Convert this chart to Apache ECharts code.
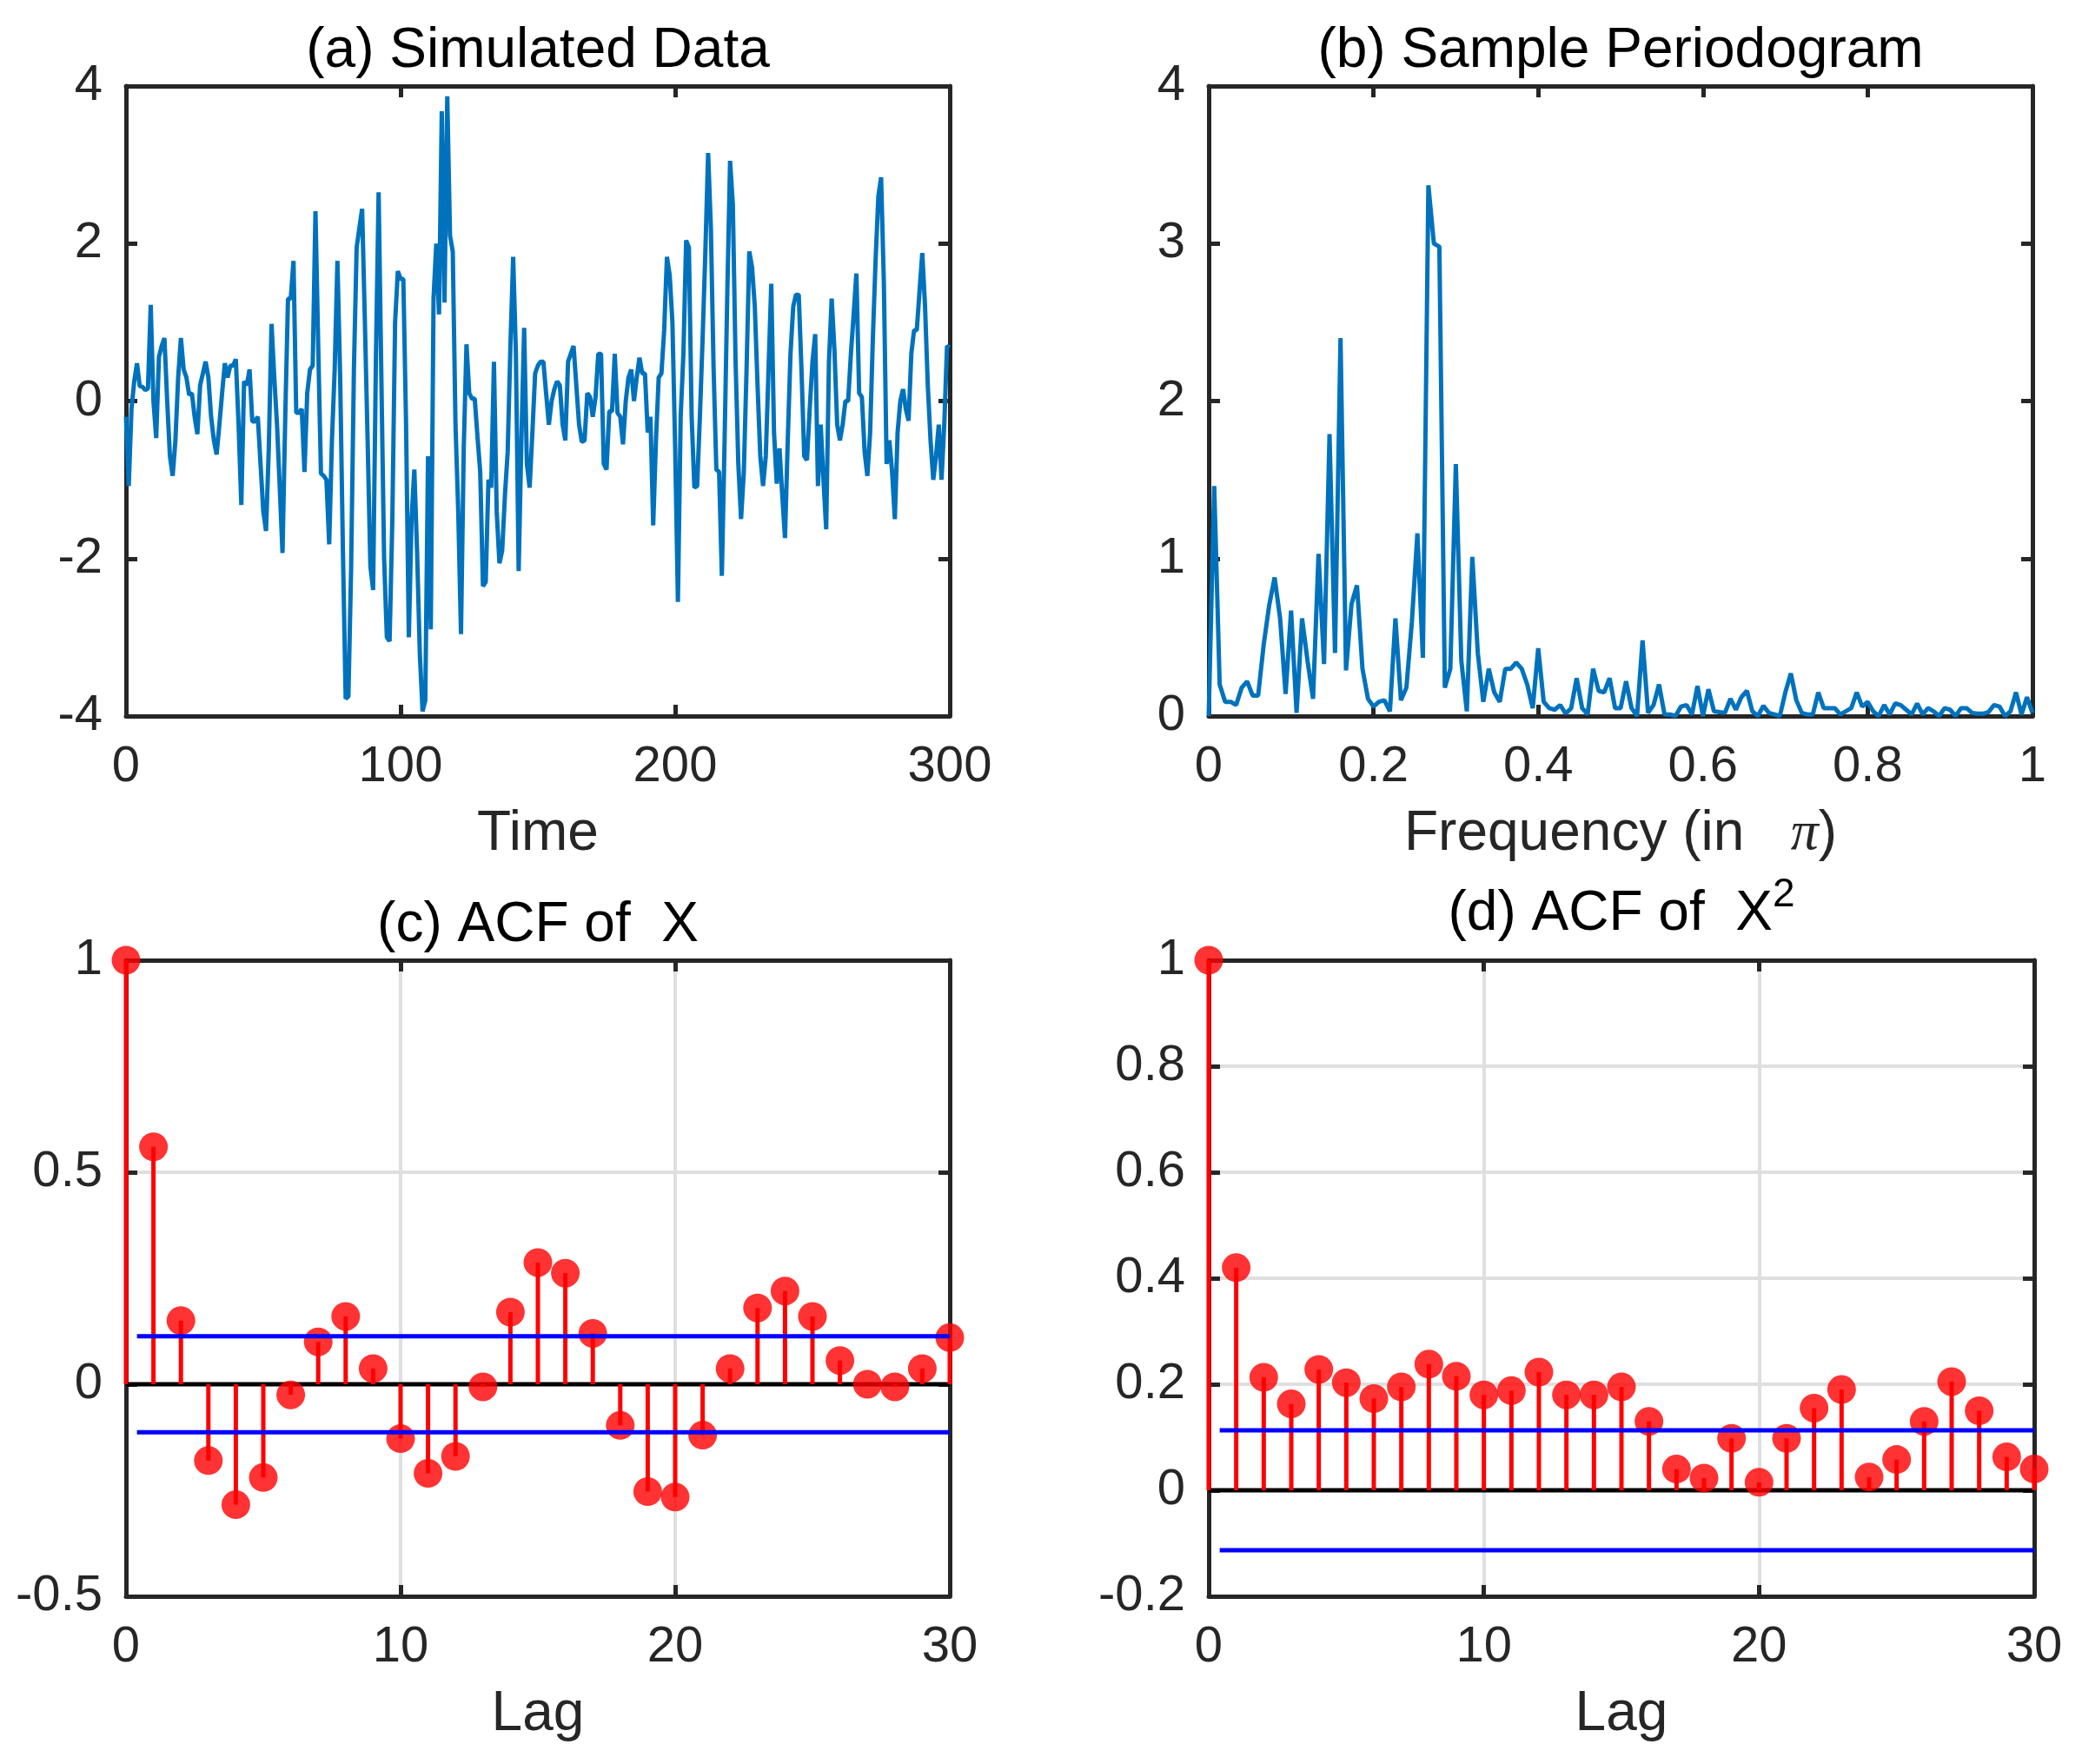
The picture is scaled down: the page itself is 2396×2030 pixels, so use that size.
<!DOCTYPE html>
<html>
<head>
<meta charset="utf-8">
<script src="https://cdn.jsdelivr.net/npm/echarts@6/dist/echarts.min.js"></script>
<style>
  body{margin:0;background:#fff;}
  #chart{width:2396px;height:2030px;}
</style>
</head>
<body>
<div id="chart"></div>
<script>
// 模拟序列 X_t, t = 0..300
var timeSeries = [
  -0.2, -1.08, -0.1, 0.25, 0.48, 0.19, 0.18, 0.14, 0.16, 1.22,
  0.0, -0.47, 0.56, 0.7, 0.8, 0.0, -0.7, -0.95, -0.5, 0.3,
  0.8, 0.4, 0.3, 0.08, 0.1, -0.2, -0.42, 0.2, 0.35, 0.5,
  0.3, -0.2, -0.5, -0.68, -0.3, 0.1, 0.48, 0.3, 0.45, 0.45,
  0.53, -0.3, -1.32, 0.25, 0.2, 0.4, -0.26, -0.26, -0.2, -0.8,
  -1.4, -1.65, -0.6, 0.98, 0.3, -0.3, -1.1, -1.93, -0.2, 1.3,
  1.3, 1.78, -0.15, -0.15, -0.1, -0.9, 0.1, 0.4, 0.45, 2.41,
  0.7, -0.92, -0.95, -1.0, -1.82, -0.5, 0.4, 1.78, 0.3, -1.9,
  -3.78, -3.75, -2.1, 0.4, 1.95, 2.2, 2.44, 1.0, -0.5, -2.1,
  -2.4, 0.5, 2.65, 0.3, -2.0, -3.0, -3.05, -1.5, 1.0, 1.65,
  1.55, 1.55, -0.3, -3.0, -1.5, -0.87, -1.9, -3.2, -3.94, -3.8,
  -0.7, -2.9, 1.3, 2.0, 1.1, 3.68, 1.25, 3.87, 2.1, 1.9,
  -0.3, -1.4, -2.96, -0.6, 0.72, 0.1, 0.03, 0.03, -0.45, -0.9,
  -2.35, -2.3, -1.0, -1.1, 0.5, -1.4, -2.06, -1.9, -1.2, -0.65,
  0.7, 1.83, 0.6, -2.16, -0.5, 0.93, -0.8, -1.1, -0.4, 0.35,
  0.45, 0.5, 0.5, 0.1, -0.3, 0.0, 0.15, 0.25, 0.2, -0.3,
  -0.5, 0.5, 0.6, 0.7, 0.2, -0.3, -0.52, -0.5, 0.1, 0.05,
  -0.2, 0.05, 0.6, 0.6, -0.8, -0.87, -0.13, -0.13, 0.6, -0.15,
  -0.2, -0.55, 0.0, 0.3, 0.4, 0.0, 0.3, 0.55, 0.35, 0.35,
  -0.4, -0.2, -1.58, -0.5, 0.3, 0.35, 0.9, 1.83, 1.6, 1.0,
  -0.6, -2.55, -0.2, 0.6, 2.04, 1.95, -0.2, -1.1, -1.08, -0.2,
  0.8, 1.9, 3.15, 2.2, 0.4, -0.87, -0.9, -2.22, -0.5, 1.4,
  3.05, 2.5, 0.5, -0.8, -1.5, -0.9, 0.4, 1.9, 1.7, 1.2,
  0.2, -0.7, -1.08, -0.7, 0.4, 1.49, -0.4, -1.05, -0.6, -1.2,
  -1.74, -0.5, 0.6, 1.2, 1.35, 1.35, 0.4, -0.7, -0.75, -0.1,
  0.5, 0.85, -1.08, -0.3, -1.0, -1.63, 0.5, 1.3, 0.65, -0.3,
  -0.5, -0.3, 0.0, 0.0, 0.6, 1.1, 1.62, 0.1, 0.05, -0.65,
  -0.95, -0.4, 0.8, 1.8, 2.6, 2.84, 1.5, -0.8, -0.5, -0.9,
  -1.5, -0.4, 0.0, 0.15, -0.1, -0.25, 0.6, 0.9, 0.9, 1.4,
  1.88, 1.2, 0.2, -0.5, -1.0, -0.7, -0.3, -1.0, -0.3, 0.7,
  0.68
];

// 样本周期图, 频率 k/150 (单位 pi), k = 0..150
var freqPower = [
  0.0, 1.46, 0.2, 0.09, 0.09, 0.07, 0.18, 0.22, 0.13, 0.13,
  0.45, 0.7, 0.88, 0.62, 0.14, 0.67, 0.02, 0.62, 0.35, 0.11,
  1.03, 0.33, 1.79, 0.4, 2.4, 0.29, 0.71, 0.83, 0.3, 0.11,
  0.06, 0.09, 0.1, 0.03, 0.62, 0.1, 0.18, 0.6, 1.16, 0.37,
  3.37, 3.0, 2.98, 0.18, 0.3, 1.6, 0.35, 0.03, 1.01, 0.4,
  0.09, 0.3, 0.15, 0.09, 0.3, 0.3, 0.34, 0.3, 0.2, 0.05,
  0.43, 0.09, 0.05, 0.04, 0.07, 0.015, 0.05, 0.24, 0.05, 0.01,
  0.3, 0.16, 0.15, 0.24, 0.05, 0.05, 0.22, 0.05, 0.0, 0.48,
  0.02, 0.07, 0.2, 0.01, 0.01, 0.0, 0.06, 0.07, 0.01, 0.19,
  0.0, 0.17, 0.03, 0.025, 0.02, 0.11, 0.04, 0.12, 0.16, 0.03,
  0.0, 0.065, 0.02, 0.01, 0.0, 0.15, 0.27, 0.1, 0.02, 0.01,
  0.01, 0.15, 0.05, 0.05, 0.05, 0.01, 0.03, 0.05, 0.15, 0.06,
  0.09, 0.03, 0.0, 0.07, 0.01, 0.08, 0.07, 0.04, 0.01, 0.08,
  0.01, 0.05, 0.03, 0.0, 0.05, 0.04, 0.0, 0.05, 0.05, 0.02,
  0.015, 0.015, 0.025, 0.07, 0.06, 0.0, 0.03, 0.15, 0.01, 0.12,
  0.02
];

// 自相关, lag 0..30
var acfX = [1, 0.56, 0.15, -0.18, -0.284, -0.22, -0.025, 0.1, 0.16, 0.037,
  -0.128, -0.21, -0.17, -0.006, 0.17, 0.287, 0.262, 0.12, -0.097, -0.253,
  -0.266, -0.12, 0.037, 0.18, 0.22, 0.16, 0.056, 0.0, -0.006, 0.037, 0.11];
var acfX2 = [1, 0.42, 0.213, 0.163, 0.228, 0.203, 0.173, 0.195, 0.238, 0.215,
  0.18, 0.188, 0.223, 0.18, 0.18, 0.195, 0.13, 0.04, 0.023, 0.098,
  0.015, 0.098, 0.155, 0.19, 0.025, 0.058, 0.13, 0.205, 0.15, 0.063, 0.04];

var confBound = 0.113;      // 1.96/sqrt(300)
var lagRange = [0, 30];
var bandStart = 0.4;

var FONT = 'Liberation Sans';
var INK = '#262626';

function pairs(arr, step) {
    return arr.map(function (v, i) { return [i * step, v]; });
}

// 每个子图: 底/顶 x 轴, 左/右 y 轴, 形成封闭框
function boxAxes(gi, xo, yo) {
    var line = {show: true, onZero: false, lineStyle: {color: INK, width: 5}};
    var tick = {show: true, inside: true, length: 13, lineStyle: {color: INK, width: 5}};
    var split = {show: !!xo.grid, lineStyle: {color: '#dfdfdf', width: 4}};
    var label = {color: INK, fontSize: 58, fontFamily: FONT, showMinLabel: true, showMaxLabel: true};
    var xs = [
        {
            gridIndex: gi, type: 'value', position: 'bottom',
            min: xo.min, max: xo.max, interval: xo.interval,
            axisLine: line, axisTick: tick, splitLine: split,
            axisLabel: Object.assign({margin: 30}, label),
            name: xo.name, nameLocation: 'middle', nameGap: 104,
            nameTextStyle: {color: INK, fontSize: 64, fontFamily: FONT, rich: xo.nameRich}
        },
        {
            gridIndex: gi, type: 'value', position: 'top',
            min: xo.min, max: xo.max, interval: xo.interval,
            axisLine: line, axisTick: tick, splitLine: {show: false},
            axisLabel: {show: false},
            name: xo.title, nameLocation: 'middle', nameGap: 8,
            nameTextStyle: {color: '#000', fontSize: 64, fontFamily: FONT, rich: xo.titleRich}
        }
    ];
    var ys = [
        {
            gridIndex: gi, type: 'value', position: 'left',
            min: yo.min, max: yo.max, interval: yo.interval,
            axisLine: line, axisTick: tick,
            splitLine: {show: !!yo.grid, lineStyle: {color: '#dfdfdf', width: 4}},
            axisLabel: Object.assign({margin: 27}, label)
        },
        {
            gridIndex: gi, type: 'value', position: 'right',
            min: yo.min, max: yo.max, interval: yo.interval,
            axisLine: line, axisTick: tick, splitLine: {show: false},
            axisLabel: {show: false}
        }
    ];
    return {x: xs, y: ys};
}

function stemSeries(axisIdx, acf) {
    var pts = pairs(acf, 1);
    return [
        {
            type: 'line', xAxisIndex: axisIdx, yAxisIndex: axisIdx,
            data: [[lagRange[0], 0], [lagRange[1], 0]],
            showSymbol: false, lineStyle: {color: '#000', width: 5}, z: 2
        },
        {
            type: 'bar', xAxisIndex: axisIdx, yAxisIndex: axisIdx,
            data: pts, barWidth: 5, itemStyle: {color: '#ff0000'}, z: 3
        },
        {
            type: 'scatter', xAxisIndex: axisIdx, yAxisIndex: axisIdx,
            data: pts, symbol: 'circle', symbolSize: 33, clip: false,
            itemStyle: {color: '#ff0000'}, z: 4
        },
        {
            type: 'line', xAxisIndex: axisIdx, yAxisIndex: axisIdx,
            data: [[bandStart, confBound], [lagRange[1], confBound]],
            showSymbol: false, lineStyle: {color: '#0000ff', width: 5}, z: 5
        },
        {
            type: 'line', xAxisIndex: axisIdx, yAxisIndex: axisIdx,
            data: [[bandStart, -confBound], [lagRange[1], -confBound]],
            showSymbol: false, lineStyle: {color: '#0000ff', width: 5}, z: 5
        }
    ];
}

function drawFigure() {
    var a = boxAxes(0, {min: 0, max: 300, interval: 100, name: 'Time', title: '(a) Simulated Data'},
                       {min: -4, max: 4, interval: 2});
    var b = boxAxes(1, {min: 0, max: 1, interval: 0.2,
                        name: '{n|Frequency (in   }{p|π}{n|)}',
                        nameRich: {
                            n: {fontSize: 64, fontFamily: FONT, color: INK},
                            p: {fontSize: 64, fontFamily: 'Liberation Serif', fontStyle: 'italic', color: INK}
                        },
                        title: '(b) Sample Periodogram'},
                       {min: 0, max: 4, interval: 1});
    var c = boxAxes(2, {min: 0, max: 30, interval: 10, name: 'Lag', title: '(c) ACF of  X', grid: true},
                       {min: -0.5, max: 1, interval: 0.5, grid: true});
    var d = boxAxes(3, {min: 0, max: 30, interval: 10, name: 'Lag',
                        title: '{t|(d) ACF of  X}{s|2}',
                        titleRich: {
                            t: {fontSize: 64, fontFamily: FONT, color: '#000'},
                            s: {fontSize: 46, fontFamily: FONT, color: '#000', verticalAlign: 'bottom', padding: [0, 0, 44, 0]}
                        },
                        grid: true},
                       {min: -0.2, max: 1, interval: 0.2, grid: true});

    var option = {
        backgroundColor: '#fff',
        animation: false,
        grid: [
            {left: 145, top: 99, width: 948, height: 725},
            {left: 1391, top: 99, width: 948, height: 725},
            {left: 145, top: 1105, width: 948, height: 732},
            {left: 1391, top: 1105, width: 950, height: 732}
        ],
        xAxis: [].concat(a.x, b.x, c.x, d.x),
        yAxis: [].concat(a.y, b.y, c.y, d.y),
        series: [
            {
                type: 'line', xAxisIndex: 0, yAxisIndex: 0,
                data: pairs(timeSeries, 1),
                showSymbol: false, lineStyle: {color: '#0072bd', width: 5}
            },
            {
                type: 'line', xAxisIndex: 2, yAxisIndex: 2,
                data: pairs(freqPower, 1 / (freqPower.length - 1)),
                showSymbol: false, lineStyle: {color: '#0072bd', width: 5}
            }
        ].concat(stemSeries(4, acfX), stemSeries(6, acfX2))
    };
    var myChart = echarts.init(document.getElementById('chart'));
    myChart.setOption(option);
}

drawFigure();
</script>
</body>
</html>
